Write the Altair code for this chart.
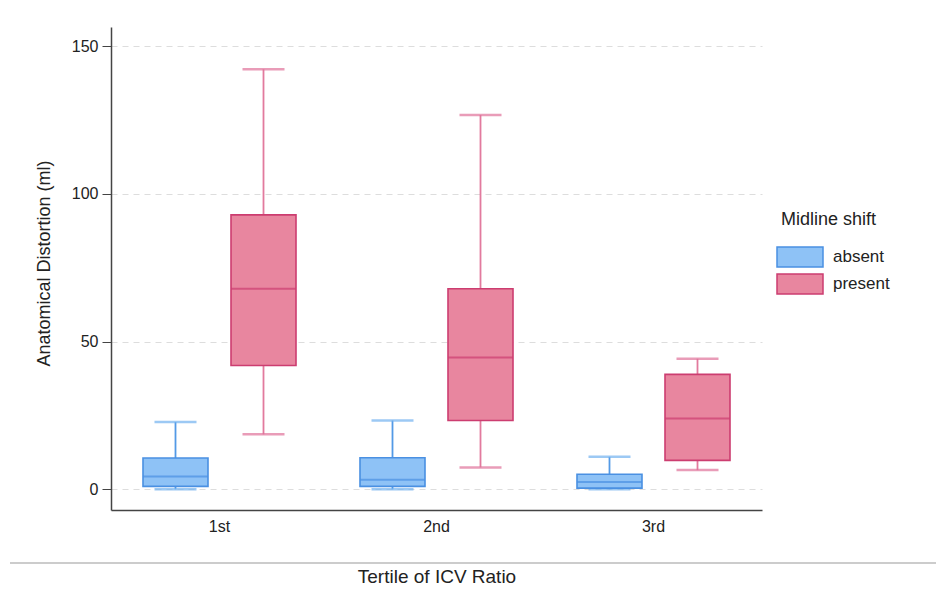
import altair as alt
import pandas as pd

tertiles = ["1st", "2nd", "3rd"]
groups = ["absent", "present"]

absent_lower = [0.0, 0.0, 0.0]
absent_q1 = [1.0, 1.0, 0.4]
absent_median = [4.3, 3.2, 2.5]
absent_q3 = [10.6, 10.7, 5.1]
absent_upper = [22.8, 23.3, 11.0]

present_lower = [18.6, 7.4, 6.5]
present_q1 = [41.9, 23.3, 9.8]
present_median = [67.9, 44.6, 24.0]
present_q3 = [92.9, 67.9, 38.9]
present_upper = [142.2, 126.7, 44.2]

y_ticks = [0, 50, 100, 150]

rows = []
for g, lo, q1, md, q3, up in [
    ("absent", absent_lower, absent_q1, absent_median, absent_q3, absent_upper),
    ("present", present_lower, present_q1, present_median, present_q3, present_upper),
]:
    for i, t in enumerate(tertiles):
        rows.append({"tertile": t, "shift": g, "lower": lo[i], "q1": q1[i],
                     "median": md[i], "q3": q3[i], "upper": up[i]})
df = pd.DataFrame(rows)

fill_range = ["#8ec2f6", "#e8869f"]
stroke_range = ["#4a90e2", "#cc3d70"]
whisker_range = ["#539ae6", "#e27a9e"]
cap_range = ["#72b2f0", "#e0729a"]

yscale = alt.Scale(domain=[-7, 156.5], nice=False, zero=False)

x_enc = alt.X("tertile:N", sort=tertiles,
              scale=alt.Scale(paddingInner=0, paddingOuter=0),
              axis=alt.Axis(title="Tertile of ICV Ratio", labelAngle=0, ticks=False,
                            labelPadding=8, labelFontSize=16, titleFontSize=19,
                            titlePadding=33, titleFontWeight="normal",
                            domainColor="#444444", domainWidth=1.5,
                            labelColor="#222222", titleColor="#222222", grid=False))
xo_enc = alt.XOffset("shift:N", sort=groups,
                     scale=alt.Scale(paddingInner=0.2614, paddingOuter=0.3636))

base = alt.Chart(df).encode(x=x_enc, xOffset=xo_enc)

y_axis = alt.Axis(title="Anatomical Distortion (ml)", values=y_ticks, titleFontSize=18,
                  titlePadding=18, titleFontWeight="normal", titleY=236,
                  labelFontSize=16,
                  tickSize=9, labelPadding=4, grid=True, gridDash=[6, 5],
                  gridColor="#dddddd", domainColor="#444444", domainWidth=1.5,
                  tickColor="#444444", labelColor="#222222", titleColor="#222222")

wcol = alt.Color("shift:N", scale=alt.Scale(domain=groups, range=whisker_range), legend=None)

whisk_lo = base.mark_rule(strokeWidth=1.8).encode(
    y=alt.Y("lower:Q", scale=yscale, axis=y_axis), y2="q1:Q", color=wcol)
whisk_hi = base.mark_rule(strokeWidth=1.8).encode(
    y=alt.Y("q3:Q", scale=yscale), y2="upper:Q", color=wcol)

ccol = alt.Color("shift:N", scale=alt.Scale(domain=groups, range=cap_range), legend=None)
cap_lo = base.mark_tick(size=42, thickness=2.5).encode(
    y=alt.Y("lower:Q", scale=yscale), color=ccol)
cap_hi = base.mark_tick(size=42, thickness=2.5).encode(
    y=alt.Y("upper:Q", scale=yscale), color=ccol)

box = base.mark_bar(strokeWidth=1.6).encode(
    y=alt.Y("q1:Q", scale=yscale), y2="q3:Q",
    fill=alt.Fill("shift:N", scale=alt.Scale(domain=groups, range=fill_range),
                  legend=alt.Legend(title="Midline shift")),
    stroke=alt.Stroke("shift:N", scale=alt.Scale(domain=groups, range=stroke_range),
                      legend=alt.Legend(title="Midline shift")),
)

mcol = alt.Color("shift:N", scale=alt.Scale(domain=groups, range=stroke_range), legend=None)
med = base.mark_tick(size=65, thickness=2).encode(
    y=alt.Y("median:Q", scale=yscale), color=mcol)

sep = alt.Chart(pd.DataFrame({"a": [0]})).mark_rule(color="#cccccc", strokeWidth=2).encode(
    x=alt.value(-101), x2=alt.value(825), y=alt.value(536))

chart = alt.layer(whisk_lo, whisk_hi, cap_lo, cap_hi, box, med, sep).resolve_scale(
    color="independent"
).properties(
    width=651, height=483,
    autosize=alt.AutoSizeParams(type="none"),
    padding={"left": 111, "top": 27, "right": 174, "bottom": 83},
).configure(
    font="Liberation Sans"
).configure_view(stroke=None).configure_legend(
    orient="none", legendX=670, legendY=184,
    titleFontSize=18, titleFontWeight="normal", titleColor="#222222", titlePadding=17,
    labelFontSize=17, labelColor="#222222", labelOffset=22, symbolOffset=8,
    symbolType="M-2.3,-1H2.3V1H-2.3Z", symbolSize=400, symbolStrokeWidth=1.5,
    symbolOpacity=1, rowPadding=1,
)

chart.save("out.html", embed_options={"renderer": "svg", "actions": False})
